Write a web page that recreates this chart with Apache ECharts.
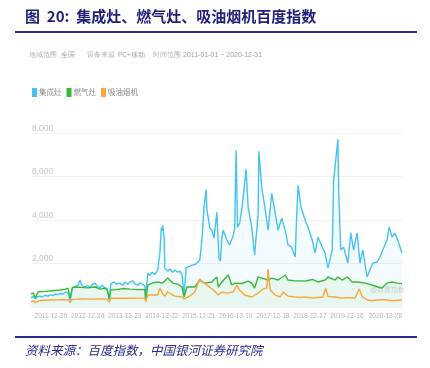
<!DOCTYPE html>
<html>
<head>
<meta charset="utf-8">
<script src="https://cdn.jsdelivr.net/npm/echarts@6/dist/echarts.min.js"></script>
<style>
  html, body { margin: 0; padding: 0; background: #fff; }
  #main { width: 430px; height: 368px; }
</style>
</head>
<body>
<div id="main"></div>
<script>
// weekly categories, first Monday of the range
const startDate = '2011-01-03';
const weekCount = 522;
const tickLabels = ['2011-12-26', '2012-12-24', '2013-12-23', '2014-12-22', '2015-12-21',
  '2016-12-19', '2017-12-18', '2018-12-17', '2019-12-16', '2020-12-28'];
const seriesNames = ['集成灶', '燃气灶', '吸油烟机'];

// [week index, value]
const jichengzao = [
  [0, 420], [3, 480], [6, 380], [9, 470], [13, 500], [16, 460], [20, 540], [24, 500], [27, 560], [31, 530], [34, 600],
  [38, 570], [41, 620], [45, 600], [48, 680], [52, 650], [55, 300],
  [58, 850], [62, 950], [66, 1000], [69, 1240], [70, 1100], [73, 950], [76, 920], [80, 980], [83, 900], [87, 1050],
  [90, 1100], [93, 950], [97, 900], [100, 1000], [104, 880], [107, 850], [110, 330],
  [112, 1050], [116, 1150], [120, 1050], [125, 1100], [129, 1000], [132, 1150], [136, 1050], [139, 1150], [143, 1200],
  [146, 1050], [150, 1000], [153, 1100], [157, 1050], [160, 950], [161, 400],
  [164, 1550], [167, 1450], [170, 1600], [174, 1500], [178, 1700], [181, 2500], [183, 3650], [184, 3500], [185, 3760],
  [187, 3200], [188, 1800], [192, 1650], [195, 1750], [199, 1600], [202, 1700], [206, 1600], [209, 1650], [212, 1500], [215, 600],
  [218, 1800], [221, 1850], [226, 1930], [230, 1950], [233, 2020], [237, 2160], [240, 3080], [243, 4590], [246, 5400],
  [247, 4450], [249, 4090], [251, 3630], [254, 3530], [257, 3170], [261, 4360], [264, 2250], [266, 2100], [268, 3200],
  [270, 3530], [275, 3080], [279, 2850], [284, 3300], [286, 3600], [288, 7210], [290, 3670], [293, 3850], [296, 4500],
  [298, 5050], [302, 6330], [305, 4590], [310, 3670], [314, 2390], [319, 4310], [320, 7160], [324, 5510], [329, 4450],
  [333, 3530], [338, 5230], [343, 4310], [347, 3530], [352, 4090], [357, 3530], [361, 2850], [366, 2750], [371, 2300],
  [373, 4130], [375, 5600], [379, 4590], [382, 4310], [385, 4000], [389, 3670], [395, 3080], [399, 2480], [403, 3210],
  [409, 2750], [413, 2480], [417, 1790], [423, 2620], [425, 5830], [431, 7710], [432, 5370], [435, 2620], [439, 2750],
  [445, 2020], [449, 3400], [453, 2620], [458, 3400], [462, 2020], [466, 2620], [472, 1380], [476, 1700], [480, 2020],
  [486, 2070], [490, 2300], [494, 2620], [500, 3080], [503, 3670], [507, 3210], [511, 3400], [515, 3080], [521, 2480]
];
const ranqizao = [
  [0, 600], [3, 650], [6, 420], [10, 700], [20, 720], [30, 750], [41, 780], [48, 820], [52, 870], [55, 400],
  [58, 900], [62, 920], [70, 900], [80, 880], [90, 920], [97, 820], [104, 860], [107, 780], [110, 370],
  [112, 780], [120, 800], [130, 850], [139, 820], [150, 800], [160, 800], [161, 330],
  [164, 1010], [170, 1100], [178, 1150], [185, 1100], [192, 1330], [199, 1100], [206, 1050], [212, 920], [215, 460],
  [219, 920], [230, 920], [237, 1240], [244, 1100], [254, 1150], [261, 1380], [263, 920], [268, 1150], [277, 1470],
  [282, 1010], [286, 1100], [296, 1080], [305, 1190], [310, 1100], [314, 870], [319, 1380], [324, 1330], [333, 1240],
  [338, 1330], [347, 1240], [357, 1470], [361, 1240], [371, 1200], [380, 1200], [385, 1190], [392, 1240], [395, 1270],
  [403, 1150], [413, 1240], [417, 1380], [427, 1240], [431, 1380], [437, 1240], [444, 1380], [451, 1150], [459, 1150],
  [469, 1100], [479, 1010], [487, 920], [493, 870], [500, 1100], [507, 1150], [514, 1100], [521, 1080]
];
const xiyouyanji = [
  [0, 230], [3, 280], [6, 200], [13, 300], [27, 320], [41, 330], [52, 340], [55, 200], [58, 350], [70, 370], [83, 360],
  [97, 370], [107, 360], [110, 220], [112, 400], [125, 410], [139, 400], [153, 410], [160, 410], [161, 250],
  [164, 550], [170, 550], [178, 550], [181, 870], [185, 600], [188, 500], [192, 690], [202, 500], [212, 460], [215, 370],
  [223, 500], [230, 690], [237, 1290], [241, 1150], [249, 960], [256, 780], [258, 780], [263, 550], [268, 690],
  [275, 640], [284, 690], [289, 1010], [293, 780], [300, 550], [310, 460], [319, 640], [326, 830], [331, 870],
  [333, 1740], [336, 780], [343, 550], [350, 460], [354, 690], [361, 500], [371, 460], [380, 440], [385, 460],
  [395, 410], [403, 440], [410, 460], [414, 870], [417, 480], [427, 460], [437, 410], [445, 440], [455, 410],
  [461, 830], [465, 480], [472, 320], [479, 290], [487, 320], [497, 340], [507, 290], [521, 320]
];

function buildWeeks() {
  const out = [];
  const d = new Date(startDate + 'T00:00:00Z');
  for (let i = 0; i < weekCount; i++) {
    out.push(d.toISOString().slice(0, 10));
    d.setUTCDate(d.getUTCDate() + 7);
  }
  return out;
}

const weeks = buildWeeks();
const chart = echarts.init(document.getElementById('main'));
const grey = '#b4b4b4';
const narrow = '"Liberation Sans Narrow", "Liberation Sans", sans-serif';

function lineSeries(name, data, color, area) {
  return {
    name: name,
    type: 'line',
    data: data,
    symbol: 'none',
    smooth: false,
    lineStyle: { color: color, width: 1.4 },
    itemStyle: { color: color },
    areaStyle: area ? { color: area } : undefined
  };
}

const option = {
  animation: false,
  backgroundColor: '#fff',
  textStyle: { fontFamily: '"Noto Sans CJK SC", "Noto Sans", sans-serif' },
  grid: { left: 31, right: 28, top: 133, bottom: 61 },
  legend: {
    left: 32, top: 88, padding: 0,
    itemWidth: 5, itemHeight: 9, itemGap: 5,
    icon: 'rect',
    textStyle: { fontSize: 7.5, color: '#8a8a8a', padding: [0, 0, 0, -3] },
    data: seriesNames
  },
  xAxis: {
    type: 'category',
    data: weeks,
    boundaryGap: false,
    axisLine: { show: false },
    axisTick: { show: false },
    splitLine: { show: false },
    axisLabel: {
      interval: (i, v) => tickLabels.indexOf(v) >= 0,
      align: 'right',
      margin: 6,
      fontSize: 6.5,
      color: grey,
      fontFamily: narrow,
      hideOverlap: false
    }
  },
  yAxis: {
    type: 'value',
    min: 0, max: 8000, interval: 2000,
    axisLine: { show: false },
    axisTick: { show: false },
    splitLine: { lineStyle: { color: '#f1f1f1', width: 1 } },
    axisLabel: {
      inside: true,
      verticalAlign: 'bottom',
      margin: 1,
      fontSize: 8.5,
      color: '#c4c4c4',
      fontFamily: narrow,
      formatter: v => (v === 0 ? '' : v.toLocaleString('en-US'))
    }
  },
  series: [
    lineSeries(seriesNames[0], jichengzao, '#45c3f0', 'rgba(69,195,240,0.09)'),
    lineSeries(seriesNames[1], ranqizao, '#36b936', 'rgba(120,200,90,0.12)'),
    lineSeries(seriesNames[2], xiyouyanji, '#f8a73a', null)
  ],
  graphic: [
    { type: 'text', left: 25, top: 9, style: { text: '图  20:  集成灶、燃气灶、吸油烟机百度指数', fontSize: 15, fontWeight: 'bold', fill: '#1e1e78', fontFamily: '"Noto Sans CJK SC", serif' } },
    { type: 'rect', shape: { x: 15, y: 31, width: 402, height: 2 }, style: { fill: '#2b2b8c' } },
    { type: 'text', left: 29, top: 52, style: { text: '地域范围', fontSize: 6.5, fill: '#b0b0b0' } },
    { type: 'text', left: 61, top: 52, style: { text: '全国', fontSize: 6.5, fill: '#a0a0a0' } },
    { type: 'text', left: 87, top: 52, style: { text: '设备来源', fontSize: 6.5, fill: '#b0b0b0' } },
    { type: 'text', left: 118, top: 52, style: { text: 'PC+移动', fontSize: 6.5, fill: '#a0a0a0' } },
    { type: 'text', left: 153, top: 52, style: { text: '时间范围', fontSize: 6.5, fill: '#b0b0b0' } },
    { type: 'text', left: 183, top: 52, style: { text: '2011-01-01 ~ 2020-12-31', fontSize: 7, fill: '#a0a0a0', fontFamily: narrow } },
    { type: 'text', left: 370, top: 287, style: { text: '@百度指数', fontSize: 7, fill: '#d0d0d0' } },
    { type: 'rect', shape: { x: 15, y: 336, width: 402, height: 2 }, style: { fill: '#2b2b8c' } },
    { type: 'text', left: 25, top: 344, style: { text: '资料来源：百度指数，中国银河证券研究院', fontSize: 12.5, fontStyle: 'italic', fill: '#2b2b8c', fontFamily: '"Noto Sans CJK SC", serif' } }
  ]
};

chart.setOption(option);
</script>
</body>
</html>
